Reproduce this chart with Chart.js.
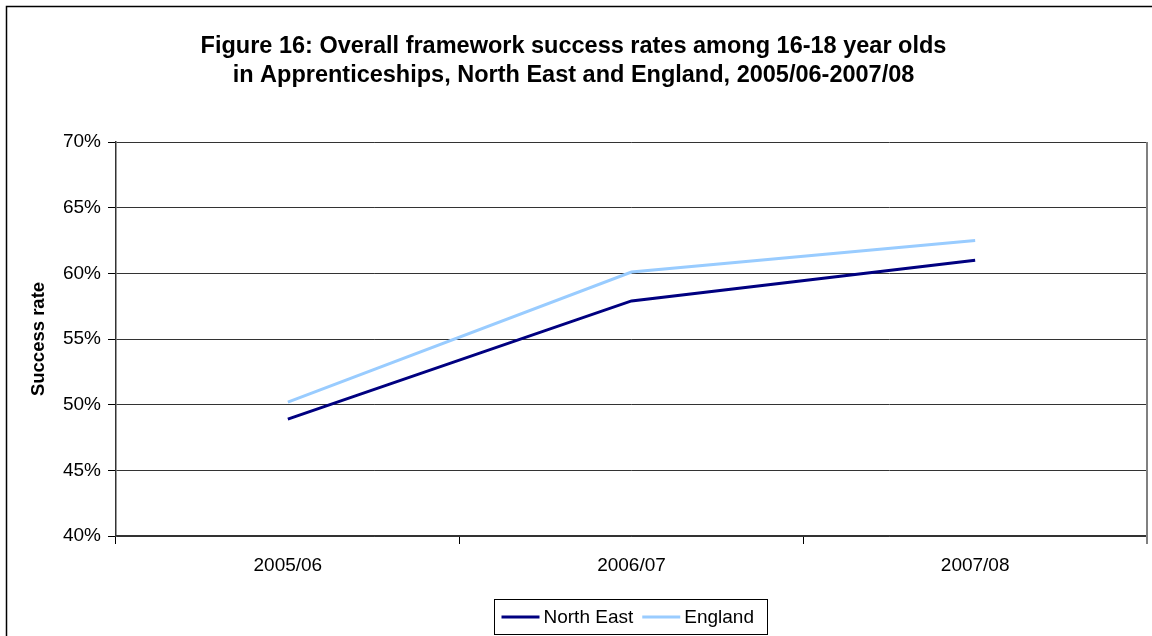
<!DOCTYPE html>
<html>
<head>
<meta charset="utf-8">
<script src="https://cdn.jsdelivr.net/npm/chart.js@4/dist/chart.umd.min.js"></script>
<style>
  html, body { margin: 0; padding: 0; background: #fff; }
  #wrap { width: 1152px; height: 636px; }
</style>
</head>
<body>
<div id="wrap"><canvas id="chart" width="1152" height="636"></canvas></div>
<script>
// Success rates (%) for 16-18 year old apprentices
const years = ['2005/06', '2006/07', '2007/08'];
const northEast = [48.9, 57.9, 61.0];
const england = [50.2, 60.1, 62.5];
const yTicks = [40, 45, 50, 55, 60, 65, 70];

const seriesNames = ['North East', 'England'];
const seriesColors = ['#000080', '#99CCFF'];

// Frame round the whole figure, right edge of the plot and a boxed legend
const framePlugin = {
    id: 'frame',
    afterDraw(chart) {
        const ctx = chart.ctx;
        const area = chart.chartArea;
        ctx.save();
        ctx.strokeStyle = '#000';
        ctx.lineWidth = 1.5;
        ctx.beginPath();
        ctx.moveTo(6.5, 636);
        ctx.lineTo(6.5, 6.5);
        ctx.lineTo(1152, 6.5);
        ctx.stroke();

        ctx.strokeStyle = '#808080';
        ctx.lineWidth = 2;
        ctx.beginPath();
        ctx.moveTo(area.right, area.top);
        ctx.lineTo(area.right, area.bottom + 8);
        ctx.stroke();

        // legend
        const box = { x: 494.5, y: 599.5, w: 273, h: 35 };
        ctx.strokeStyle = '#000';
        ctx.lineWidth = 1;
        ctx.strokeRect(box.x, box.y, box.w, box.h);
        ctx.font = '19px "Liberation Sans", Arial, sans-serif';
        ctx.textBaseline = 'middle';
        ctx.fillStyle = '#000';
        let x = box.x + 7;
        const cy = box.y + box.h / 2;
        chart.data.datasets.forEach(ds => {
            ctx.strokeStyle = ds.borderColor;
            ctx.lineWidth = 3;
            ctx.beginPath();
            ctx.moveTo(x, cy);
            ctx.lineTo(x + 38, cy);
            ctx.stroke();
            x += 42;
            ctx.fillText(ds.label, x, cy + 1);
            x += ctx.measureText(ds.label).width + 9;
        });
        ctx.restore();
    }
};

new Chart(document.getElementById('chart'), {
    type: 'line',
    data: {
        labels: years,
        datasets: [
            { label: seriesNames[0], data: northEast, borderColor: seriesColors[0], backgroundColor: seriesColors[0] },
            { label: seriesNames[1], data: england, borderColor: seriesColors[1], backgroundColor: seriesColors[1] }
        ]
    },
    options: {
        responsive: false,
        animation: false,
        devicePixelRatio: 1,
        elements: {
            line: { borderWidth: 3, tension: 0 },
            point: { radius: 0, hoverRadius: 0 }
        },
        layout: { padding: { left: 0, right: 5, top: 0, bottom: 60 } },
        plugins: {
            legend: { display: false },
            tooltip: { enabled: false },
            title: {
                display: true,
                text: ['Figure 16: Overall framework success rates among 16-18 year olds',
                       'in Apprenticeships, North East and England, 2005/06-2007/08'],
                color: '#000',
                font: { family: '"Liberation Sans", Arial, sans-serif', size: 23.5, weight: 'bold', lineHeight: '29px' },
                padding: { top: 32, bottom: 52 }
            }
        },
        scales: {
            x: {
                offset: true,
                afterFit(scale) { scale.height = 40; },
                grid: { offset: true, drawOnChartArea: false, drawTicks: true, tickLength: 8, tickColor: '#000' },
                border: { color: '#333', width: 1.5 },
                ticks: {
                    color: '#000',
                    padding: 10,
                    maxRotation: 0,
                    font: { family: '"Liberation Sans", Arial, sans-serif', size: 19 }
                }
            },
            y: {
                min: yTicks[0],
                max: yTicks[yTicks.length - 1],
                afterFit(scale) { scale.width = 116; },
                afterBuildTicks(scale) { scale.ticks = yTicks.map(v => ({ value: v })); },
                grid: { color: '#333', lineWidth: 1, tickLength: 8, tickColor: '#000' },
                border: { color: '#333', width: 1.5 },
                ticks: {
                    color: '#000',
                    padding: 7,
                    font: { family: '"Liberation Sans", Arial, sans-serif', size: 19 },
                    callback: v => v + '%'
                },
                title: {
                    display: true,
                    text: 'Success rate',
                    color: '#000',
                    font: { family: '"Liberation Sans", Arial, sans-serif', size: 18.5, weight: 'bold' },
                    padding: { top: 28, bottom: 0 }
                }
            }
        }
    },
    plugins: [framePlugin]
});
</script>
</body>
</html>
